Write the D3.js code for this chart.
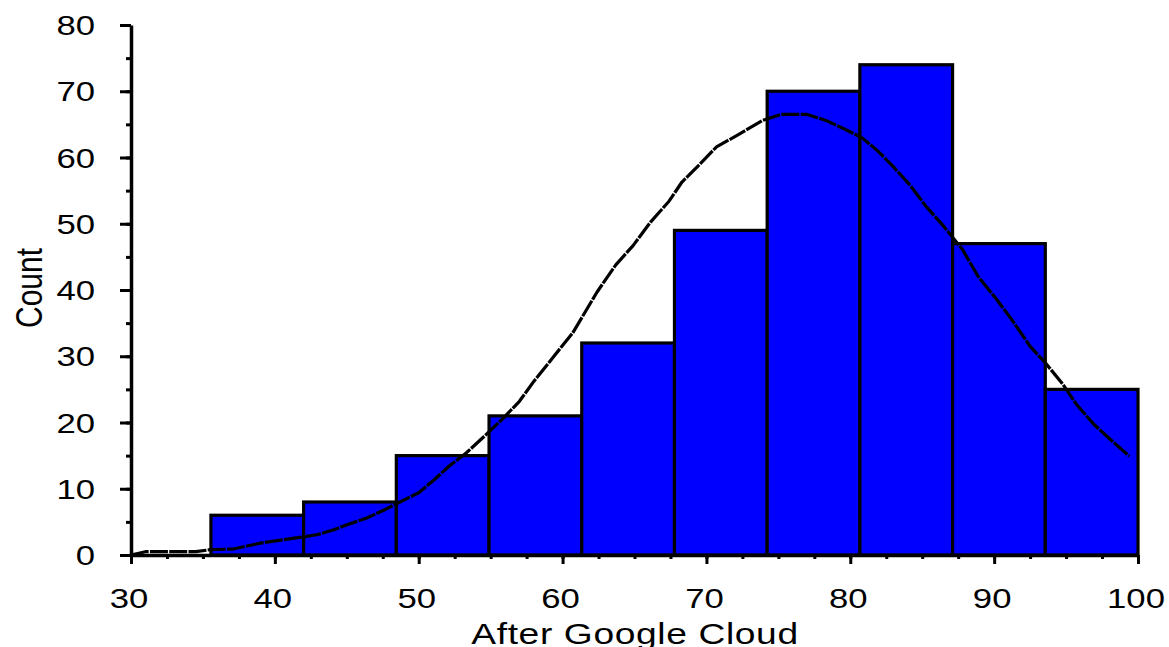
<!DOCTYPE html>
<html><head><meta charset="utf-8">
<script src="https://cdn.jsdelivr.net/npm/d3@7"></script>
<style>body{margin:0;background:#fff} svg{display:block}</style>
</head><body>
<svg id="c" width="1169" height="647"></svg>
<script>
// ---- data ----
const binEdges = [35.556, 42.0, 48.444, 54.889, 61.333, 67.778, 74.222, 80.667, 87.111, 93.556, 100];
const counts = [6, 8, 15, 21, 32, 49, 70, 74, 47, 25];
const curveX = [30, 31, 34.5, 35.5, 37.1, 39, 40.6, 42.2, 43, 44.1, 45.2, 46.4, 47.6, 48.7, 50, 51.1, 52.1, 53.3, 54.7, 55.9, 57, 58, 59.4, 60.7, 62.4, 63.7, 64.9, 66.1, 67.4, 68.3, 69.5, 70.7, 72.1, 73.9, 75.2, 77, 78.3, 79.4, 80.8, 81.9, 83, 84.2, 85.2, 86.5, 87.8, 88.9, 90.1, 91.2, 92.5, 93.6, 94.8, 95.7, 96.9, 98.2, 99.4];
const curveY = [0, 0.5, 0.5, 0.8, 0.9, 1.8, 2.3, 2.8, 3.1, 3.8, 4.7, 5.6, 6.8, 8.0, 9.4, 11.4, 13.4, 15.4, 18.2, 20.7, 23.2, 26.2, 30, 33.5, 39.7, 43.8, 46.7, 50.2, 53.4, 56.3, 58.9, 61.6, 63.3, 65.6, 66.5, 66.5, 65.6, 64.5, 63.0, 61.0, 58.6, 55.7, 52.8, 49.6, 46.1, 42.0, 38.8, 35.6, 31.5, 28.9, 25.7, 22.8, 19.8, 17.2, 14.9];
const xTicks = [30, 40, 50, 60, 70, 80, 90, 100];
const xMinorTicks = d3.range(30, 100.01, 2.5);
const yTicks = [0, 10, 20, 30, 40, 50, 60, 70, 80];
const yMinorTicks = d3.range(0, 80.01, 5);
const xTitle = "After Google Cloud";
const yTitle = "Count";

// ---- layout ----
const svg = d3.select("#c");
const x = d3.scaleLinear().domain([30, 100]).range([131, 1138]);
const y = d3.scaleLinear().domain([0, 80]).range([555, 25]);
const SX = 1.24;
const font = "'Liberation Sans', Arial, sans-serif";

// bars
const bins = counts.map((c, i) => ({x0: binEdges[i], x1: binEdges[i + 1], c}));
svg.append("g").selectAll("rect").data(bins).join("rect")
  .attr("x", d => x(d.x0)).attr("width", d => x(d.x1) - x(d.x0))
  .attr("y", d => y(d.c)).attr("height", d => y(0) - y(d.c))
  .attr("fill", "#0000FF").attr("stroke", "#000").attr("stroke-width", 3.2);

// minor ticks
svg.append("g").attr("transform", `translate(0,${y(0)})`)
  .call(d3.axisBottom(x).tickValues(xMinorTicks).tickSize(4).tickSizeOuter(0).tickFormat(""))
  .call(g => g.select(".domain").remove())
  .call(g => g.selectAll("line").attr("stroke-width", 3));
svg.append("g").attr("transform", `translate(${x(30)},0)`)
  .call(d3.axisLeft(y).tickValues(yMinorTicks).tickSize(5).tickSizeOuter(0).tickFormat(""))
  .call(g => g.select(".domain").remove())
  .call(g => g.selectAll("line").attr("stroke-width", 3));

// major axes
svg.append("g").attr("transform", `translate(0,${y(0)})`)
  .call(d3.axisBottom(x).tickValues(xTicks).tickSize(9).tickSizeOuter(0).tickFormat(""))
  .call(g => g.select(".domain").attr("stroke-width", 3.5))
  .call(g => g.selectAll("line").attr("stroke-width", 3));
svg.append("g").attr("transform", `translate(${x(30)},0)`)
  .call(d3.axisLeft(y).tickValues(yTicks).tickSize(11).tickSizeOuter(0).tickFormat(""))
  .call(g => g.select(".domain").attr("stroke-width", 3.5))
  .call(g => g.selectAll("line").attr("stroke-width", 3));

// tick labels
svg.append("g").selectAll("text").data(yTicks).join("text")
  .attr("transform", d => `translate(95,${y(d) + 10}) scale(${SX},1)`)
  .attr("text-anchor", "end").attr("font-family", font).attr("font-size", 28)
  .text(d => d);
svg.append("g").selectAll("text").data(xTicks).join("text")
  .attr("transform", d => `translate(${x(d) - 2},608) scale(${SX},1)`)
  .attr("text-anchor", "middle").attr("font-family", font).attr("font-size", 28)
  .text(d => d);

// titles
svg.append("text").attr("transform", `translate(42,288) scale(${SX},1) rotate(-90)`)
  .attr("text-anchor", "middle").attr("font-family", font).attr("font-size", 30)
  .text(yTitle);
svg.append("text").attr("transform", `translate(635,644) scale(${SX},1)`)
  .attr("text-anchor", "middle").attr("font-family", font).attr("font-size", 30)
  .attr("letter-spacing", 0.5)
  .text(xTitle);

// curve
const pts = curveX.map((v, i) => [v, curveY[i]]);
svg.append("path").datum(pts)
  .attr("d", d3.line().x(d => x(d[0])).y(d => y(d[1])))
  .attr("fill", "none").attr("stroke", "#000").attr("stroke-width", 3.2)
  .attr("stroke-dasharray", "18,1.3").attr("stroke-linejoin", "round");
</script>
</body></html>
